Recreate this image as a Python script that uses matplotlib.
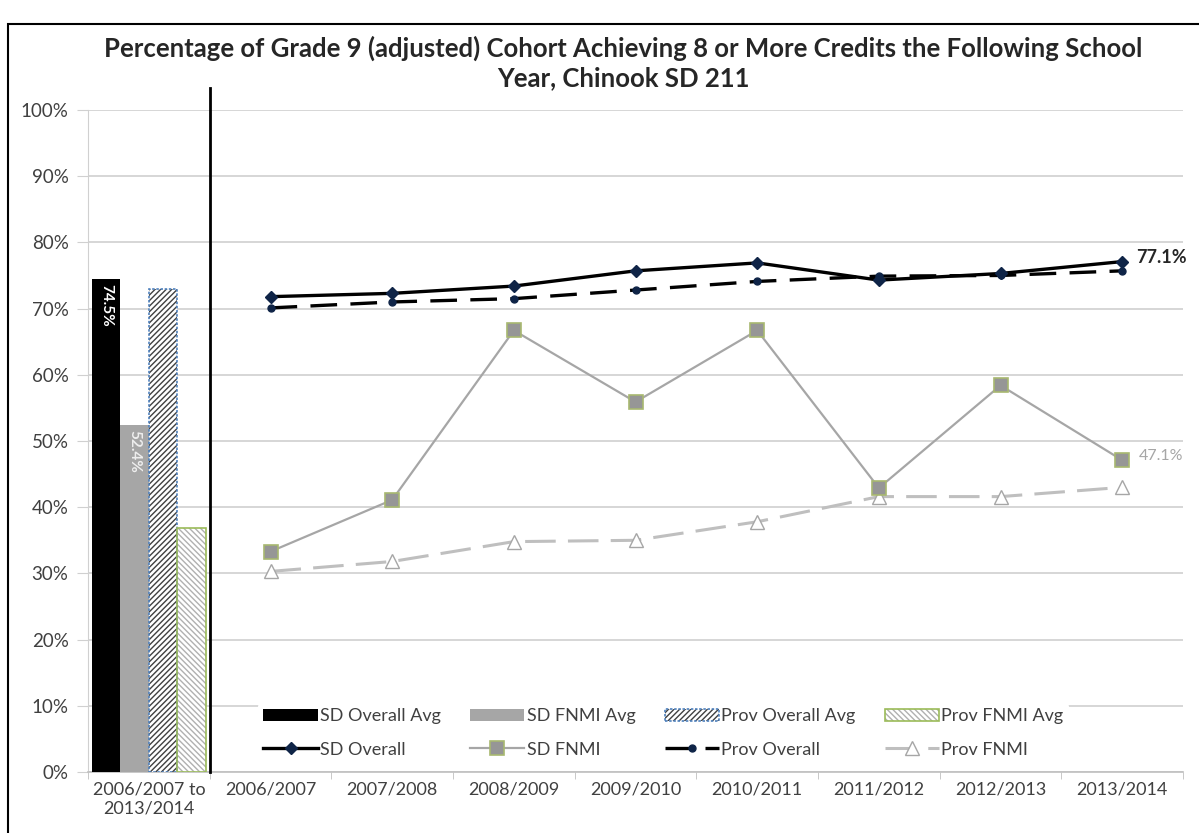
import matplotlib
matplotlib.use('Agg')
import matplotlib.pyplot as plt
from matplotlib.patches import Rectangle
from matplotlib.legend_handler import HandlerTuple

plt.rcParams['font.family'] = ['Lato', 'DejaVu Sans']
plt.rcParams['hatch.linewidth'] = 1.0

# 数据
years = ['2006/2007', '2007/2008', '2008/2009', '2009/2010',
         '2010/2011', '2011/2012', '2012/2013', '2013/2014']
avg_label = '2006/2007 to\n2013/2014'
sd_overall = [71.8, 72.3, 73.4, 75.7, 76.9, 74.3, 75.3, 77.1]
prov_overall = [70.1, 71.0, 71.5, 72.8, 74.1, 74.9, 75.0, 75.7]
sd_fnmi = [33.3, 41.1, 66.7, 55.9, 66.7, 42.9, 58.4, 47.1]
prov_fnmi = [30.3, 31.8, 34.8, 35.0, 37.8, 41.6, 41.6, 43.0]
avg_names = ['SD Overall Avg', 'SD FNMI Avg', 'Prov Overall Avg', 'Prov FNMI Avg']
avg_values = [74.5, 52.4, 73.0, 36.9]

fig = plt.figure(figsize=(11.99, 8.33), dpi=100)
ax = fig.add_axes([0.0734, 0.0732, 0.9133, 0.7948])

x_years = list(range(1, len(years) + 1))
bw = 0.233
bx = [-1.5 * bw, -0.5 * bw, 0.5 * bw, 1.5 * bw]

# 柱状图
b1 = ax.bar(bx[0], avg_values[0], bw, color='black', zorder=3)
b2 = ax.bar(bx[1], avg_values[1], bw, color='#a6a6a6', zorder=3)
b3 = ax.bar(bx[2], avg_values[2], bw, color='white', edgecolor='#404040',
            hatch='//////', linewidth=0, zorder=3)
b3e = ax.bar(bx[2], avg_values[2], bw, fill=False, edgecolor='#4f81bd',
             linewidth=1.2, linestyle=(0, (1.5, 1)), zorder=4)
b4 = ax.bar(bx[3], avg_values[3], bw, color='white', edgecolor='#b0b0b0',
            hatch='\\\\\\\\\\\\', linewidth=0, zorder=3)
b4e = ax.bar(bx[3], avg_values[3], bw, fill=False, edgecolor='#9bbb59',
             linewidth=1.2, zorder=4)

ax.text(bx[0], avg_values[0] - 0.8, '74.5%', rotation=270, color='white',
        fontsize=11, fontweight='bold', ha='center', va='top', zorder=5)
ax.text(bx[1], avg_values[1] - 0.8, '52.4%', rotation=270, color='#eeeeee',
        fontsize=11, fontweight='bold', ha='center', va='top', zorder=5)

# 折线图
l_sd, = ax.plot(x_years, sd_overall, '-', color='black', lw=2.4, marker='D',
                ms=6, mfc='#0f2447', mec='#0f2447', zorder=6)
l_prov, = ax.plot(x_years, prov_overall, color='black', lw=2.4,
                  linestyle=(0, (8, 4)), marker='o', ms=5,
                  mfc='#0f2447', mec='#0f2447', zorder=5)
l_sdf, = ax.plot(x_years, sd_fnmi, '-', color='#a6a6a6', lw=1.6, marker='s',
                 ms=10, mfc='#969696', mec='#a8b870', mew=1.2, zorder=6)
l_provf, = ax.plot(x_years, prov_fnmi, color='#bfbfbf', lw=2.2,
                   linestyle=(0, (10, 4)), marker='^', ms=10,
                   mfc='white', mec='#a6a6a6', zorder=5)

ax.annotate('77.1%', (x_years[-1], sd_overall[-1]), xytext=(10, 3),
            textcoords='offset points', fontsize=13, fontweight='bold',
            color='#262626', ha='left', va='center')
ax.annotate('47.1%', (x_years[-1], sd_fnmi[-1]), xytext=(12, 3),
            textcoords='offset points', fontsize=11.5, color='#a6a6a6',
            ha='left', va='center')

# 分隔竖线
ax.plot([0.5, 0.5], [0, 103.3], color='black', lw=2, clip_on=False, zorder=7)

# 坐标轴
ax.set_xlim(-0.5, 8.5)
ax.set_ylim(0, 100)
ax.set_yticks(range(0, 101, 10))
ax.set_yticklabels([f'{v}%' for v in range(0, 101, 10)])
ax.set_xticks([0] + x_years)
ax.set_xticklabels([avg_label] + years)
ax.set_xticks([i - 0.5 for i in range(0, 10)], minor=True)
ax.tick_params(axis='x', which='major', length=0, labelsize=13,
               labelcolor='#404040', pad=7)
ax.tick_params(axis='x', which='minor', length=5, color='#bfbfbf',
               direction='out')
ax.tick_params(axis='y', length=8, color='#d0d0d0', labelsize=13.5,
               labelcolor='#404040', pad=6)
ax.grid(axis='y', color='#d0d0d0', lw=1.2, zorder=0)
ax.set_axisbelow(True)
for s in ['top', 'right']:
    ax.spines[s].set_visible(False)
ax.spines['left'].set_color('#d0d0d0')
ax.spines['bottom'].set_color('#bfbfbf')
ax.spines['bottom'].set_linewidth(1.2)

# 图例
handles = [b1, l_sd, b2, l_sdf, (b3, b3e), l_prov, (b4, b4e), l_provf]
labels = ['SD Overall Avg', 'SD Overall', 'SD FNMI Avg', 'SD FNMI',
          'Prov Overall Avg', 'Prov Overall', 'Prov FNMI Avg', 'Prov FNMI']
leg = ax.legend(handles, labels, ncol=4, loc='lower left',
                bbox_to_anchor=(0.147, 0.0), frameon=True, fontsize=13,
                handlelength=3.0, handletextpad=0.15, columnspacing=1.6,
                labelspacing=0.95, borderpad=0.3,
                handler_map={tuple: HandlerTuple(ndivide=1)})
leg.get_frame().set_edgecolor('none')
leg.get_frame().set_facecolor('white')
leg.get_frame().set_alpha(1)
for t in leg.get_texts():
    t.set_color('#404040')

fig.text(0.52, 0.925,
         'Percentage of Grade 9 (adjusted) Cohort Achieving 8 or More Credits the Following School\nYear, Chinook SD 211',
         ha='center', va='center', fontsize=18.5, fontweight='bold',
         color='#262626', linespacing=1.25)

# 外框
fig.patches.append(Rectangle((0.0067, -0.01), 1.0, 0.9816, fill=False,
                             edgecolor='black', lw=1.5,
                             transform=fig.transFigure, figure=fig))

fig.savefig('out.png', dpi=100)
